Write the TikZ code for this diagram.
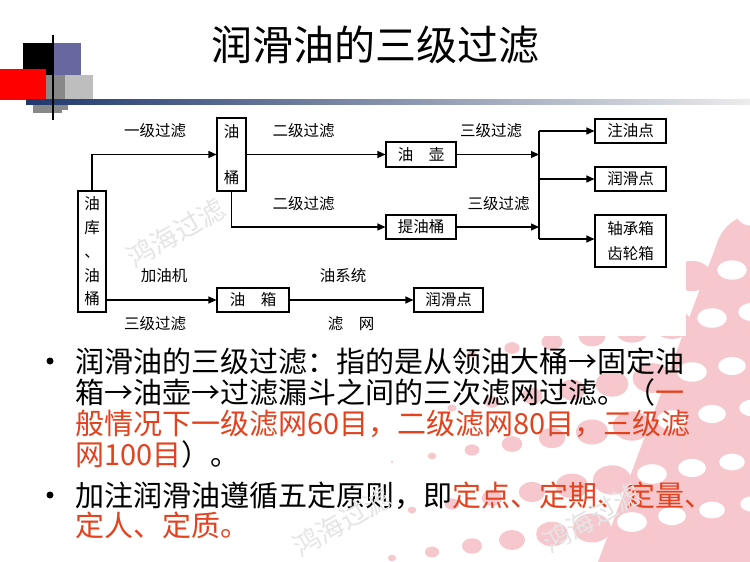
\documentclass[tikz,border=0pt]{standalone}
\usepackage{fontspec}
\setmainfont{Noto Sans CJK SC}
\usetikzlibrary{arrows.meta}
\definecolor{navy}{RGB}{31,56,110}
\definecolor{redtxt}{RGB}{228,66,30}
\definecolor{pinkdot}{RGB}{246,200,205}
\definecolor{purp}{RGB}{104,104,160}
\definecolor{dgray}{RGB}{136,136,136}
\definecolor{lgray}{RGB}{190,190,190}
\newcommand{\dfont}{\fontsize{15.5}{18}\selectfont}
\newcommand{\dfontA}{\fontsize{15.5}{23.75}\selectfont}
\newcommand{\dfontB}{\fontsize{15.5}{46}\selectfont}
\newcommand{\dfontC}{\fontsize{15.5}{25}\selectfont}
\newcommand{\bfontsz}{\fontsize{29}{31}\selectfont}
\tikzset{
  dbox/.style={draw, line width=1.1pt, inner sep=0pt, font=\dfont},
  dlab/.style={inner sep=0pt, font=\dfont, text height=13.6pt, text depth=1.9pt},
  conn/.style={line width=1.1pt},
  arr/.style={line width=1.1pt, -{Triangle[length=8pt,width=7pt]}},
  btxt/.style={anchor=west, inner sep=0pt, font=\bfontsz, text height=25.5pt, text depth=3.5pt},
  wmark/.style={inner sep=0pt, font=\fontsize{27}{27}\selectfont, text=gray!20, rotate=30}
}
\begin{document}
\begin{tikzpicture}[x=1pt,y=-1pt]
\useasboundingbox (0,0) rectangle (750,562);
\fill[white] (0,0) rectangle (750,562);

% pink halftone decoration
\begin{scope}
\clip (0,0) rectangle (750,562);
\foreach \j in {0,...,8}{
  \foreach \i in {0,...,10}{
    \pgfmathsetmacro\mycx{352+40*\i+20*mod(\j,2)}
    \pgfmathsetmacro\mycy{180+48*\j-6*\i}
    \pgfmathsetmacro\myt{\mycx+0.36*\mycy}
    \pgfmathsetmacro\myr{(\myt-540)*0.06}
    \ifdim\myr pt>0.8pt
      \ifdim\myt pt<800pt
        \ifdim\mycy pt>236pt
          \fill[pinkdot] (\mycx,\mycy) ellipse[x radius=1.3*\myr, y radius=1.0*\myr];
        \fi
      \fi
    \fi
  }
}
\fill[pinkdot] (760,212) .. controls (735,216) and (722,226) .. (716,246) -- (598,562) -- (760,562) -- cycle;
\foreach \j in {0,...,8}{
  \foreach \i in {0,...,10}{
    \pgfmathsetmacro\mycx{352+40*\i+20*mod(\j,2)}
    \pgfmathsetmacro\mycy{180+48*\j-6*\i}
    \pgfmathsetmacro\myt{\mycx+0.36*\mycy}
    \pgfmathsetmacro\myr{12-(\myt-800)*0.022}
    \ifdim\myt pt>808pt
      \fill[white] (\mycx,\mycy) ellipse[x radius=1.3*\myr, y radius=0.85*\myr];
    \fi
  }
}
\end{scope}

% top-left decoration
\fill[white] (0,0) rectangle (750,104);
\fill[black] (23,43) rectangle (53,75);
\fill[purp] (53,43) rectangle (81,75);
\fill[lgray] (65,75) rectangle (93,105);
\fill[dgray] (46,75) rectangle (65,102);
\fill[dgray] (33,102) rectangle (68,113);
\fill[red] (0,69) rectangle (46,100);
\shade[left color=navy, right color=gray!15] (26,99) rectangle (750,104);
\draw[line width=2.5pt] (53,35) -- (53,120);

% title
\node[inner sep=0pt, font=\fontsize{41}{45}\selectfont, text height=36pt, text depth=5pt] (title) at (375,45) {润滑油的三级过滤};

% diagram background
\fill[white] (62,110) rectangle (686,336);

% watermarks
\node[wmark] (wm1) at (176,233) {鸿海过滤};

% diagram boxes
\node[dbox, minimum width=28pt, minimum height=121pt, align=center, font=\dfontA] (kuo) at (92,251.5) {油\\库\\、\\油\\桶};
\node[dbox, minimum width=29pt, minimum height=73pt, align=center, font=\dfontB] (tong) at (231.5,154.5) {油\\桶};
\node[dbox, minimum width=70pt, minimum height=25pt] (hu) at (421,154.5) {油\quad 壶};
\node[dbox, minimum width=70pt, minimum height=24pt] (ti) at (421,227) {提油桶};
\node[dbox, minimum width=71pt, minimum height=24pt] (zhu) at (630.5,131) {注油点};
\node[dbox, minimum width=71pt, minimum height=24pt] (run1) at (630.5,179) {润滑点};
\node[dbox, minimum width=71pt, minimum height=52pt, align=center, font=\dfontC] (zhou) at (630.5,241) {轴承箱\\齿轮箱};
\node[dbox, minimum width=72pt, minimum height=24pt] (xiang) at (253,300) {油\quad 箱};
\node[dbox, minimum width=69pt, minimum height=24pt] (run2) at (448.5,300) {润滑点};

% junction coordinates
\coordinate (jt) at (539,131);
\coordinate (jb) at (539,239);

% connectors
\draw[arr] (kuo.north) |- (tong.west);
\draw[arr] (tong.east) -- (hu.west);
\draw[arr] (tong.south) |- (ti.west);
\draw[arr] (hu.east) -- (hu.east -| jt);
\draw[arr] (ti.east) -- (ti.east -| jt);
\draw[conn] (jt) -- (jb);
\draw[arr] (jt) -- (jt -| zhu.west);
\draw[arr] (jt |- run1.west) -- (run1.west);
\draw[arr] (jb) -- (jb -| zhou.west);
\draw[arr] (kuo.east |- xiang.west) -- (xiang.west);
\draw[arr] (xiang.east) -- (run2.west);

% connector labels
\node[dlab] (l1) at (155,131) {一级过滤};
\node[dlab] (l2) at (303.5,131) {二级过滤};
\node[dlab] (l3) at (303.5,204) {二级过滤};
\node[dlab] (l4) at (491,131) {三级过滤};
\node[dlab] (l5) at (498.5,204) {三级过滤};
\node[dlab] (l6) at (164,276) {加油机};
\node[dlab] (l7) at (155,324) {三级过滤};
\node[dlab] (l8) at (343,276) {油系统};
\node[dlab] (l9) at (351,324) {滤\quad 网};

% bullets
\fill[black] (50,361) circle (3.5);
\fill[black] (50,495) circle (3.5);
\node[btxt] (t1) at (75,361) {润滑油的三级过滤：指的是从领油大桶→固定油};
\node[btxt] (t2) at (75,392) {箱→油壶→过滤漏斗之间的三次滤网过滤。（\textcolor{redtxt}{一}};
\node[btxt, text=redtxt] (t3) at (75,423) {般情况下一级滤网60目，二级滤网80目，三级滤};
\node[btxt] (t4) at (75,454) {\textcolor{redtxt}{网100目}）。};
\node[btxt] (t5) at (75,495) {加注润滑油遵循五定原则，即\textcolor{redtxt}{定点、定期、定量、}};
\node[btxt, text=redtxt] (t6) at (75,525) {定人、定质。};

% lower watermarks
\node[wmark] (wm2) at (342,522) {鸿海过滤};
\node[wmark] (wm3) at (592,518) {鸿海过滤};
\end{tikzpicture}
\end{document}
